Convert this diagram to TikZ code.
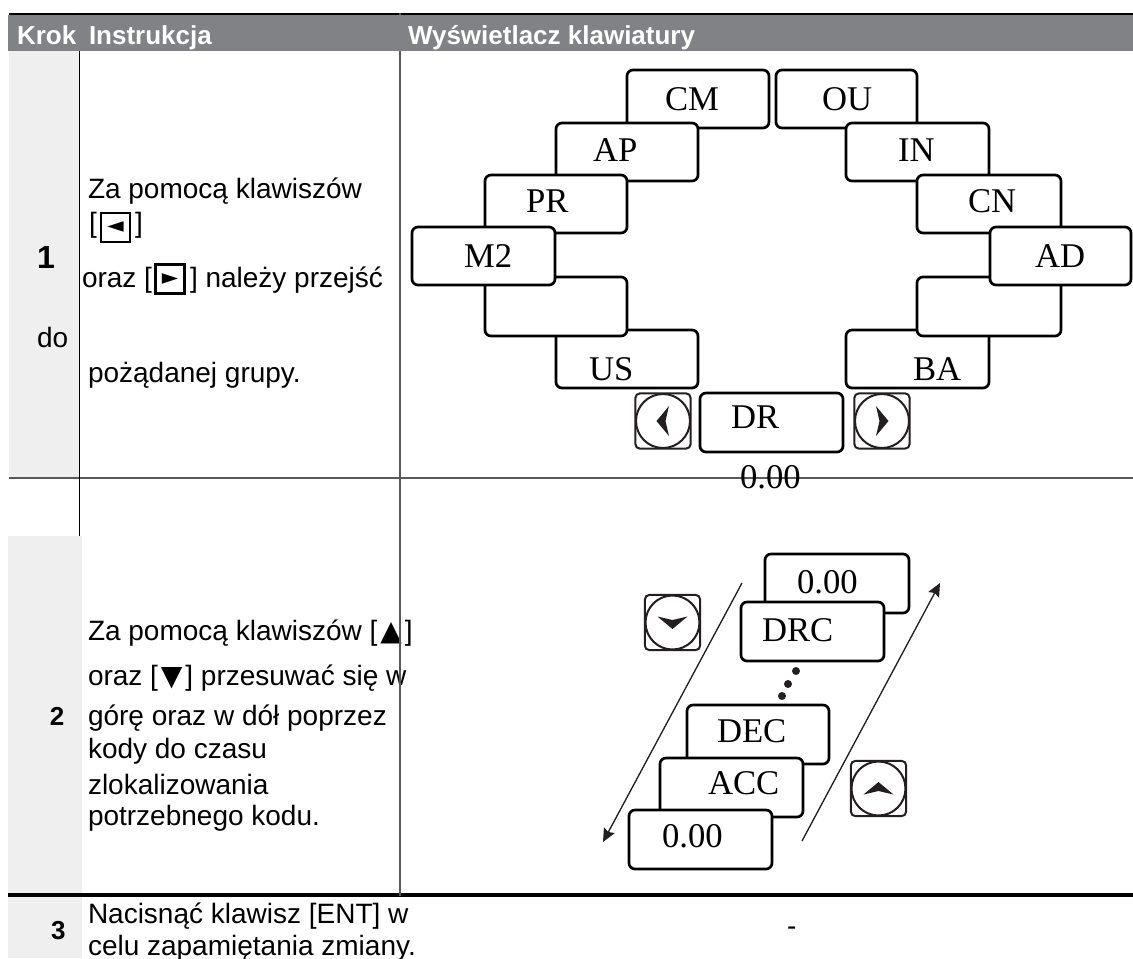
\documentclass[tikz,border=0pt]{standalone}
\usepackage{fontspec}
\usetikzlibrary{arrows.meta}
\setmainfont{Liberation Sans}
\newfontfamily\serifL{Liberation Serif}
\newfontfamily\symF{DejaVu Sans}
\definecolor{hdr}{HTML}{808285}
\definecolor{cellg}{HTML}{EFEFEF}
\definecolor{rule}{HTML}{58595B}
\definecolor{ink}{HTML}{231F20}
\tikzset{
  txt/.style={anchor=base west,inner sep=0pt,outer sep=0pt,font=\fontsize{21}{21}\selectfont,text=black},
  numb/.style={anchor=base west,inner sep=0pt,outer sep=0pt,font=\fontsize{19.5}{19.5}\selectfont\bfseries},
  head/.style={anchor=base west,inner sep=0pt,outer sep=0pt,font=\fontsize{19.5}{19.5}\selectfont\bfseries,text=white},
  lab/.style={anchor=base west,inner sep=0pt,outer sep=0pt,font=\serifL\fontsize{26}{26}\selectfont},
  kbox/.style={draw=black,fill=white,line width=2pt,rounded corners=4.5pt,inner sep=0pt,outer sep=0pt},
  keysq/.style={draw=black,line width=1.9pt,inner sep=0pt,outer sep=0pt,minimum width=21.5pt,minimum height=22pt,
     font=\symF\fontsize{16}{16}\selectfont},
  btnsq/.style={draw=ink,fill=white,line width=1.5pt,rounded corners=3.5pt,inner sep=0pt,outer sep=0pt,minimum size=41.5pt},
  btnci/.style={circle,draw=ink,line width=1.5pt,inner sep=0pt,outer sep=0pt,minimum size=40.5pt},
  dotk/.style={circle,fill=ink,inner sep=0pt,outer sep=0pt,minimum size=6pt},
  arr/.style={draw=ink,line width=1pt,-{Stealth[length=10pt,width=9pt,inset=1.5pt]}}
}
\newcommand{\kbox}[5]{%
  \pgfmathsetmacro{\kw}{(#4-#2)*0.75}\pgfmathsetmacro{\kh}{(#5-#3)*0.75}%
  \node[kbox,minimum width=\kw pt,minimum height=\kh pt] (#1) at ({(#2+#4)/2},{(#3+#5)/2}) {};}
\newcommand{\kbtn}[4]{%
  \node[btnsq] (#1s) at (#2,#3) {};
  \node[btnci] (#1c) at (#2,#3) {};
  \fill[ink,shift={(#2,#3)},rotate=#4] (-15,-6) -- (0,-2.5) -- (15,-6) -- (0,6.5) -- cycle;}
\newcommand{\symup}{\hspace{2.2pt}{\symF ▲}\hspace{2.2pt}}
\newcommand{\symdn}{\hspace{2.2pt}{\symF ▼}\hspace{2.2pt}}
\begin{document}
\begin{tikzpicture}[x=0.75pt,y=-0.75pt]
\useasboundingbox (0,0) rectangle (1133,958);
\clip (0,0) rectangle (1133,958);
\fill[white] (0,0) rectangle (1133,958);
% cells
\fill[hdr] (8,15) rectangle (1133,51);
\fill[cellg] (9,51) rectangle (79,478);
\fill[cellg] (8,536) rectangle (82,894);
\fill[cellg] (8,897) rectangle (82,958);
% rules
\draw[black,line width=1.3pt] (9,14) -- (1133,14);
\draw[rule,line width=1.2pt] (9,478) -- (1133,478);
\draw[black,line width=2.5pt] (8,895) -- (1133,895);
\draw[black,line width=0.9pt] (79.5,12.5) -- (79.5,15);
\draw[black,line width=0.9pt] (79.5,51) -- (79.5,536);
\draw[rule,line width=0.9pt] (400,12.5) -- (400,15);
% header
\node[head] (h1) at (17,44) {Krok};
\node[head] (h2) at (89,44) {Instrukcja};
\node[head] (h3) at (408,44) {Wyświetlacz klawiatury};
% ring
\kbox{cm}{627}{70}{769}{128}
\kbox{ap}{556}{123}{698}{181}
\kbox{pr}{485}{175}{627}{233}
\kbox{ou}{776}{70}{917}{128}
\kbox{in}{846}{123}{989}{181}
\kbox{cn}{917}{175}{1061}{233}
\kbox{us}{556}{330}{698}{388}
\kbox{el}{485}{277}{627}{336}
\kbox{ba}{846}{330}{989}{388}
\kbox{er}{917}{277}{1061}{336}
\kbox{m2}{412}{227}{555}{285}
\kbox{ad}{990}{227}{1131}{285}
\kbox{dr}{700}{393}{843}{452}
\node[lab] (lcm) at (665,110) {CM};
\node[lab] (lap) at (593,161) {AP};
\node[lab] (lpr) at (526,212) {PR};
\node[lab] (lm2) at (464,267) {M2};
\node[lab] (lou) at (822,110) {OU};
\node[lab] (lin) at (898,161) {IN};
\node[lab] (lcn) at (968,212) {CN};
\node[lab] (lad) at (1035,267) {AD};
\node[lab] (lus) at (589,380) {US};
\node[lab] (lba) at (913,380) {BA};
\node[lab] (ldr) at (731,428) {DR};
\node[lab] (lz1) at (740,488) {0.00};
\kbtn{bl}{663}{421}{-90}
\kbtn{br}{882}{421}{90}
% stack
\kbox{t0}{765}{554}{909}{613}
\kbox{drc}{741}{602}{884}{661}
\kbox{dec}{687}{705}{829}{764}
\kbox{acc}{660}{758}{803}{817}
\kbox{b0}{629}{810}{772}{869}
\node[lab] (lt0) at (797,593) {0.00};
\node[lab] (ldrc) at (762,641) {DRC};
\node[lab] (ldec) at (717,742) {DEC};
\node[lab] (lacc) at (708,794) {ACC};
\node[lab] (lb0) at (662,847) {0.00};
\node[dotk] (d1) at (796,671) {};
\node[dotk] (d2) at (788,684) {};
\node[dotk] (d3) at (782,696) {};
\coordinate (a1s) at (742,583);
\coordinate (a1e) at (603,842);
\coordinate (a2s) at (802,841);
\coordinate (a2e) at (940,583);
\draw[arr] (a1s) -- (a1e);
\draw[arr] (a2s) -- (a2e);
\kbtn{bd}{672.5}{622.5}{0}
\kbtn{bu}{878.5}{788.5}{180}
% row 1 text
\node[numb,font=\fontsize{24}{24}\selectfont\bfseries] (n1) at (37,268) {1};
\node[txt] (do) at (37,347) {do};
\node[txt] (t11) at (88,198) {Za pomocą klawiszów};
\node[txt] (t12a) at (89,232) {[};
\node[keysq] (kl) at (115.5,227.5) {◄};
\node[txt] (t12b) at (135,232) {]};
\node[txt] (t13a) at (82,287) {oraz [};
\node[keysq] (kr) at (170,279) {►};
\node[txt] (t13b) at (190,287) {] należy przejść};
\node[txt] (t14) at (88,382) {pożądanej grupy.};
% row 2 text
\node[numb] (n2) at (50,725) {2};
\node[txt] (t21) at (88,640) {Za pomocą klawiszów [\symup]};
\node[txt] (t22) at (88,685) {oraz [\symdn] przesuwać się w};
\node[txt] (t23) at (88,725) {górę oraz w dół poprzez};
\node[txt] (t24) at (88,758) {kody do czasu};
\node[txt] (t25) at (88,794) {zlokalizowania};
\node[txt] (t26) at (88,825) {potrzebnego kodu.};
% row 3 text
\node[numb] (n3) at (51,939) {3};
\node[txt] (t31) at (88,923) {Nacisnąć klawisz [ENT] w};
\node[txt] (t32) at (88,955) {celu zapamiętania zmiany.};
\node[txt] (dash) at (787,935) {-};
% long column rule on top
\draw[rule,line width=1.4pt] (400,51) -- (400,896);
\end{tikzpicture}
\end{document}
